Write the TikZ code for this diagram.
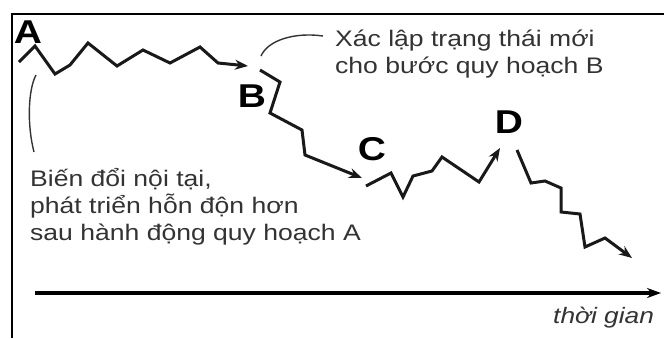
\documentclass[tikz,border=0pt]{standalone}
\usepackage{fontspec}
\setmainfont{Liberation Sans}[FakeStretch=1.18]
\usetikzlibrary{arrows.meta}
\definecolor{txt}{HTML}{333333}
\begin{document}
\begin{tikzpicture}[x=1pt,y=-1pt,
  zig/.style={line width=3pt,line join=miter,black!90},
  zigarrow/.style={zig,-{Stealth[length=13pt,width=10pt]}},
  lbl/.style={inner sep=0pt,anchor=base,font=\fontsize{33}{33}\selectfont\bfseries},
  note/.style={inner sep=0pt,anchor=base west,align=left,text=txt,font=\fontsize{22.5}{27}\selectfont},
  leader/.style={line width=1.4pt,black!80}]
\useasboundingbox (0,0) rectangle (664,338);
\fill[white] (0,0) rectangle (664,338);
% frame
\draw[line width=2pt] (12,338) -- (12,14) -- (664,14);
% labels
\node[lbl] (A) at (28,43) {A};
\node[lbl] (B) at (252,107) {B};
\node[lbl] (C) at (372,160) {C};
\node[lbl] (D) at (509,133) {D};
% texts
\node[note] (tB) at (335,73) {Xác lập trạng thái mới\\cho bước quy hoạch B};
\node[note] (tA) at (30,240) {Biến đổi nội tại,\\phát triển hỗn độn hơn\\sau hành động quy hoạch A};
\node[inner sep=0pt,anchor=base west,text=txt,font=\fontsize{22.3}{27}\selectfont\itshape] (tg) at (553,323) {thời gian};
% coordinates
\coordinate (a0) at (19,62);  \coordinate (a1) at (248,66);
\coordinate (b0) at (260,70); \coordinate (b1) at (362,178);
\coordinate (c0) at (366,186);\coordinate (c1) at (500,148);
\coordinate (d0) at (517,150);\coordinate (d1) at (632,258);
\coordinate (t0) at (35,293); \coordinate (t1) at (661,293);
\coordinate (lb0) at (323,36); \coordinate (lb1) at (261,56);
\coordinate (la0) at (34,152); \coordinate (la1) at (36,75);
% zigzags
\draw[zigarrow] (a0) -- (35,46) -- (55,74) -- (70,65) -- (88,43) -- (117,66) -- (143,50) -- (170,63) -- (200,47) -- (218,63) -- (a1);
\draw[zigarrow] (b0) -- (280,82) -- (270,113) -- (302,130) -- (305,155) -- (b1);
\draw[zigarrow] (c0) -- (391,173) -- (403,197) -- (413,176) -- (432,171) -- (442,157) -- (479,182) -- (c1);
\draw[zigarrow] (d0) -- (531,183) -- (545,181) -- (561,188) -- (561,212) -- (580,214) -- (585,247) -- (605,238) -- (d1);
% time axis
\draw[line width=3.4pt,-{Stealth[length=14pt,width=10pt]}] (t0) -- (t1);
% leaders
\draw[leader] (lb0) .. controls (295,32) and (268,40) .. (lb1);
\draw[leader] (la0) .. controls (27,125) and (28,90) .. (la1);
\end{tikzpicture}
\end{document}
